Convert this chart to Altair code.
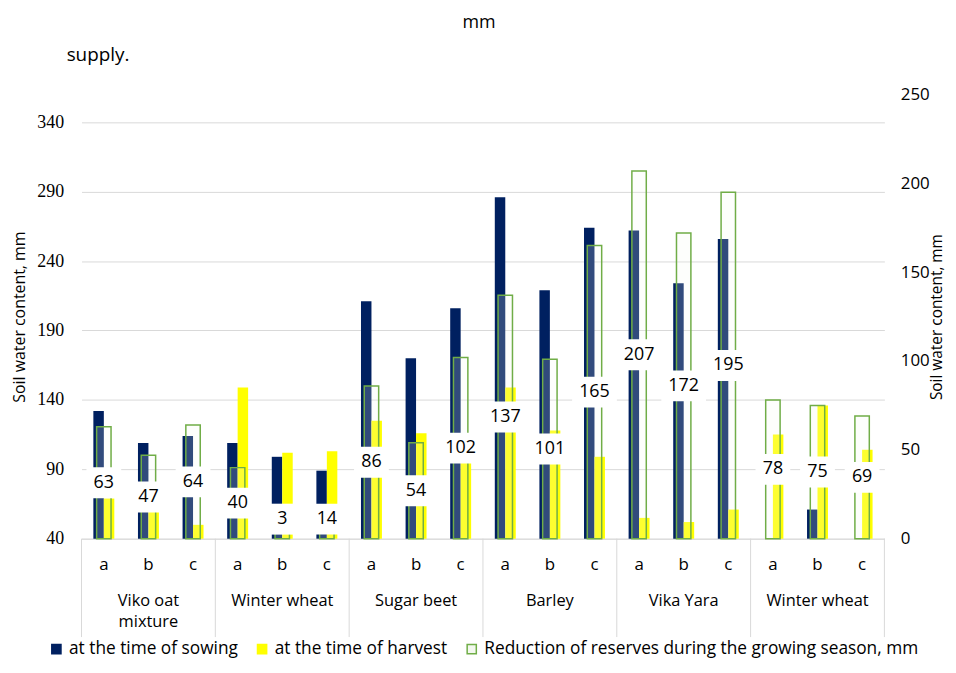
import altair as alt
import pandas as pd

# ---------------- data ----------------
group_names = ["Viko oat\nmixture", "Winter wheat", "Sugar beet", "Barley", "Vika Yara", "Winter wheat"]
sub_labels = ["a", "b", "c"]
sowing = [132, 109, 114, 109, 99, 89, 211, 170, 206, 286, 219, 264, 262, 224, 256, 37, 61, 35]
harvest = [69, 62, 50, 149, 102, 103, 125, 116, 104, 149, 118, 99, 55, 52, 61, 115, 136, 104]
reduction = [63, 47, 64, 40, 3, 14, 86, 54, 102, 137, 101, 165, 207, 172, 195, 78, 75, 69]
series_names = ["at the time of sowing", "at the time of harvest",
                "Reduction of reserves during the growing season, mm"]
left_ticks = [40, 90, 140, 190, 240, 290, 340]
right_ticks = [0, 50, 100, 150, 200, 250]

keys = [f"{g}|{s}" for g in range(len(group_names)) for s in sub_labels]
n = len(keys)

df_bars = pd.DataFrame({
    "key": keys * 2,
    "series": [series_names[0]] * n + [series_names[1]] * n,
    "value": sowing + harvest,
})
df_red = pd.DataFrame({
    "key": keys,
    "series": [series_names[2]] * n,
    "r": reduction,
    "label": [str(v) for v in reduction],
})
df_groups = pd.DataFrame({"key": [f"{g}|b" for g in range(len(group_names))], "name": group_names})
df_sep = pd.DataFrame({"key": [f"{g}|a" for g in range(len(group_names))]})
df_end = pd.DataFrame({"key": [keys[-1]]})
df_top = pd.DataFrame({"t": ["mm"]})
df_sup = pd.DataFrame({"t": ["supply."]})

# ---------------- styles ----------------
FONT = "Open Sans"
GRID = "#d9d9d9"
NAVY = "#002060"
YELLOW = "#ffff00"
GREEN = "#70ad47"
W = 808
H = 447

x_axis = alt.Axis(title=None, labelExpr="split(datum.value, '|')[1]", labelAngle=0,
                  labelFont=FONT, labelFontSize=17, labelColor="black", labelBaseline="middle",
                  labelPadding=26, ticks=False, domain=True, domainColor=GRID, grid=False)
x_scale = alt.Scale(domain=keys, paddingInner=0, paddingOuter=0)


def xenc(**kw):
    return alt.X("key:N", scale=x_scale, axis=x_axis, sort=keys, **kw)


# offset slots: empty slot, sowing, harvest, empty slot -> the pair sits in the band centre
offset_domain = ["_l"] + series_names[:2] + ["_r"]

fill_scale = alt.Scale(domain=series_names, range=[NAVY, YELLOW, "#f3f8ef"])
stroke_scale = alt.Scale(domain=series_names, range=[NAVY, YELLOW, GREEN])
legend = alt.Legend(orient="none", legendX=-34, legendY=549, direction="horizontal", title=None,
                    symbolType="square", symbolSize=85, symbolStrokeWidth=1.5,
                    labelFont=FONT, labelFontSize=17.4, labelColor="black", labelLimit=0,
                    labelOffset=4, columnPadding=15)

left_axis = alt.Axis(values=left_ticks, grid=True, gridColor=GRID, domain=False, ticks=False,
                     labelFont="Liberation Serif", labelFontSize=18, labelColor="black",
                     labelPadding=18, title="Soil water content, mm", titleFont=FONT,
                     titleFontSize=16, titleFontWeight="normal", titleColor="black",
                     titlePadding=9)
right_axis = alt.Axis(orient="right", values=right_ticks, grid=False, domain=False, ticks=False,
                      labelFont=FONT, labelFontSize=17, labelColor="black", labelPadding=16,
                      title="Soil water content, mm", titleFont=FONT, titleFontSize=15.5,
                      titleFontWeight="normal", titleColor="black", titleAngle=270,
                      titleBaseline="top", titlePadding=0)

# ---------------- layers ----------------
bars = alt.Chart(df_bars).mark_bar(strokeWidth=0).encode(
    x=xenc(),
    xOffset=alt.XOffset("series:N", sort=offset_domain,
                        scale=alt.Scale(domain=offset_domain, paddingInner=0, paddingOuter=0.13)),
    y=alt.Y("value:Q", scale=alt.Scale(domain=[40, 360], nice=False, zero=False, clamp=True),
            axis=left_axis),
    y2=alt.datum(40),
    fill=alt.Fill("series:N", scale=fill_scale, legend=legend),
    stroke=alt.Stroke("series:N", scale=stroke_scale, legend=legend),
)

green = alt.Chart(df_red).mark_bar(width=14.5, strokeWidth=1.5, fillOpacity=0.2).encode(
    x=xenc(),
    y=alt.Y("r:Q", scale=alt.Scale(domain=[0, 250], nice=False), axis=right_axis),
    fill=alt.Fill("series:N", scale=fill_scale, legend=legend),
    stroke=alt.Stroke("series:N", scale=stroke_scale, legend=legend),
)

boxes = alt.Chart(df_red).transform_calculate(
    lo="max(datum.r / 2, 11) - 8.7",
    hi="max(datum.r / 2, 11) + 8.7",
    w="length(datum.label) * 10 + 15",
).mark_bar(color="white").encode(
    x=xenc(),
    y=alt.Y("lo:Q", scale=alt.Scale(domain=[0, 250], nice=False), axis=None),
    y2="hi:Q",
    size=alt.Size("w:Q", scale=None, legend=None),
)

labels = alt.Chart(df_red).transform_calculate(
    mid="max(datum.r / 2, 11)"
).mark_text(font=FONT, fontSize=18, color="black").encode(
    x=xenc(),
    y=alt.Y("mid:Q", scale=alt.Scale(domain=[0, 250], nice=False), axis=None),
    text="label:N",
)

seps = alt.Chart(df_sep).mark_rule(color=GRID, strokeWidth=1).encode(
    x=xenc(bandPosition=0), y=alt.value(H), y2=alt.value(H + 99))
end_sep = alt.Chart(df_end).mark_rule(color=GRID, strokeWidth=1).encode(
    x=xenc(bandPosition=1), y=alt.value(H), y2=alt.value(H + 99))

group_text = alt.Chart(df_groups).mark_text(
    font=FONT, fontSize=16.5, color="black", baseline="middle", lineBreak="\n", lineHeight=21
).encode(x=xenc(), y=alt.value(H + 63), text="name:N")

top_text = alt.Chart(df_top).mark_text(font=FONT, fontSize=18, color="black").encode(
    x=alt.value(400), y=alt.value(-72), text="t:N")
sup_text = alt.Chart(df_sup).mark_text(font=FONT, fontSize=19, color="black", align="left").encode(
    x=alt.value(-15), y=alt.value(-40), text="t:N")

chart = alt.layer(
    bars, green, boxes, labels, seps, end_sep, group_text, top_text, sup_text
).resolve_scale(y="independent").properties(
    width=W, height=H,
    autosize=alt.AutoSizeParams(type="none"),
    padding={"left": 74, "top": 85, "right": 64, "bottom": 120},
).configure_view(stroke=None)

chart.save("out.html", embed_options={"renderer": "svg", "actions": False})
